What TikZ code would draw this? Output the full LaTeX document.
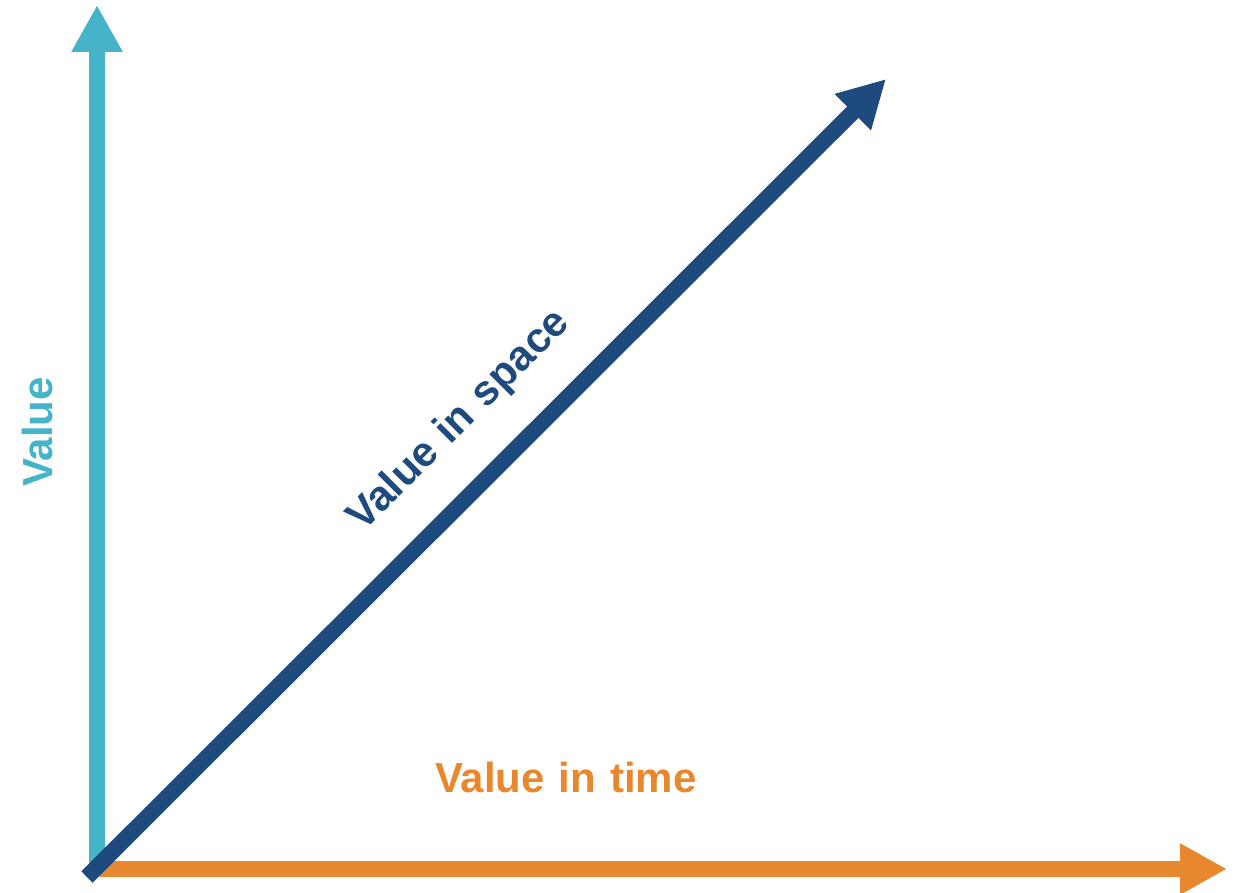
\documentclass[tikz,border=0pt]{standalone}
\usepackage{fontspec}
\setmainfont{Liberation Sans}
\usetikzlibrary{arrows.meta}
\definecolor{valcyan}{RGB}{69,180,201}
\definecolor{valorange}{RGB}{232,136,46}
\definecolor{valnavy}{RGB}{31,74,125}
\newcommand{\labelfont}{\fontsize{42}{50}\selectfont\bfseries\spaceskip=14pt\relax}
\begin{document}
\begin{tikzpicture}[x=1pt,y=-1pt,
  axis/.style={line width=16pt,-{Triangle[length=47pt,width=48pt]}},
  axislabel/.style={inner sep=0pt,font=\labelfont}]
  \useasboundingbox (0,0) rectangle (1243,893);
  % end points of the three axes
  \coordinate (vbase) at (97,866);
  \coordinate (vtip) at (97,5);
  \coordinate (hbase) at (89,869);
  \coordinate (htip) at (1227,869);
  \coordinate (dbase) at (87,877);
  \coordinate (dtip) at (886,79);
  % axes
  \draw[axis,valcyan] (vbase) -- (vtip);
  \draw[axis,valorange] (hbase) -- (htip);
  \draw[axis,valnavy] (dbase) -- (dtip);
  % labels
  \node[axislabel,text=valcyan,rotate=90,anchor=base west] (lvalue) at (52,487) {Value};
  \node[axislabel,text=valorange,anchor=base west] (ltime) at (435,792) {Value in time};
  \node[axislabel,text=valnavy,rotate=45,anchor=base west] (lspace) at (363,533) {Value in space};
\end{tikzpicture}
\end{document}
